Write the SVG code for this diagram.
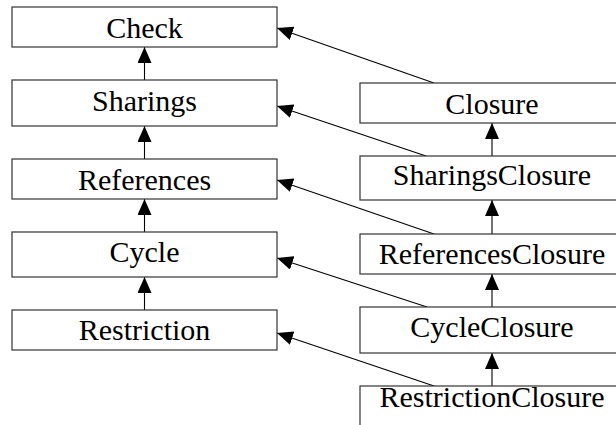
<svg xmlns="http://www.w3.org/2000/svg" width="616" height="425" viewBox="0 0 616 425">
<style>
.box{fill:#fff;stroke:#333;stroke-width:1.2}
.edge{fill:none;stroke:#000;stroke-width:1.1}
.lbl{font-family:'Liberation Serif',serif;font-size:30px;text-anchor:middle;fill:#000}
</style>
<defs>
<marker id="ah" viewBox="0 0 16 14" refX="16" refY="7" markerWidth="16" markerHeight="14" markerUnits="userSpaceOnUse" orient="auto">
<path d="M0,0 L16,7 L0,14 z" fill="#000"/>
</marker>
</defs>
<rect width="616" height="425" fill="#fff"/>
<g id="connectors">
<path class="edge" d="M144.5,80 L144.5,47" marker-end="url(#ah)"/>
<path class="edge" d="M144.5,159 L144.5,126" marker-end="url(#ah)"/>
<path class="edge" d="M144.5,232 L144.5,199" marker-end="url(#ah)"/>
<path class="edge" d="M144.5,310 L144.5,277" marker-end="url(#ah)"/>
<path class="edge" d="M492,156 L492,123" marker-end="url(#ah)"/>
<path class="edge" d="M492,234 L492,200" marker-end="url(#ah)"/>
<path class="edge" d="M492,307 L492,274" marker-end="url(#ah)"/>
<path class="edge" d="M492,386 L492,353" marker-end="url(#ah)"/>
<path class="edge" d="M434,83 L277,28" marker-end="url(#ah)"/>
<path class="edge" d="M426,156 L277,106" marker-end="url(#ah)"/>
<path class="edge" d="M434,234 L277,180" marker-end="url(#ah)"/>
<path class="edge" d="M427,307 L277,258" marker-end="url(#ah)"/>
<path class="edge" d="M434,386 L277,333" marker-end="url(#ah)"/>
</g>
<g id="Check"><rect class="box" x="12" y="7" width="265" height="40"/><text class="lbl" x="144.5" y="38">Check</text></g>
<g id="Sharings"><rect class="box" x="12" y="80" width="265" height="46"/><text class="lbl" x="144.5" y="111">Sharings</text></g>
<g id="References"><rect class="box" x="12" y="159" width="265" height="40"/><text class="lbl" x="144.5" y="189.5">References</text></g>
<g id="Cycle"><rect class="box" x="12" y="232" width="265" height="45"/><text class="lbl" x="144.5" y="262">Cycle</text></g>
<g id="Restriction"><rect class="box" x="12" y="310" width="265" height="40"/><text class="lbl" x="144.5" y="339.5">Restriction</text></g>
<g id="Closure"><rect class="box" x="360" y="83" width="264" height="40"/><text class="lbl" x="492" y="113.5">Closure</text></g>
<g id="SharingsClosure"><rect class="box" x="360" y="156" width="264" height="44"/><text class="lbl" x="492" y="185">SharingsClosure</text></g>
<g id="ReferencesClosure"><rect class="box" x="360" y="234" width="264" height="40"/><text class="lbl" x="492" y="264">ReferencesClosure</text></g>
<g id="CycleClosure"><rect class="box" x="360" y="307" width="264" height="46"/><text class="lbl" x="492" y="337">CycleClosure</text></g>
<g id="RestrictionClosure"><rect class="box" x="360" y="386" width="264" height="40"/><text class="lbl" x="492" y="407">RestrictionClosure</text></g>
</svg>
